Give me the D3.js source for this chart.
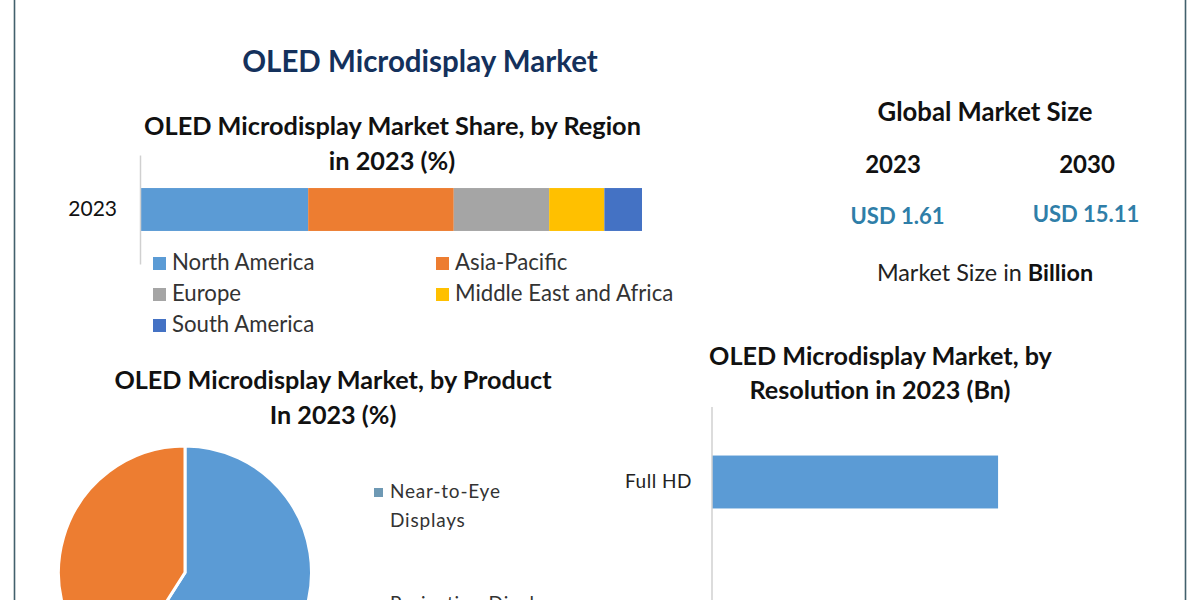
<!DOCTYPE html>
<html>

<head>
  <meta charset="utf-8">
  <title>OLED Microdisplay Market</title>
  <style>
    html, body { margin: 0; padding: 0; background: #fff; }
    svg { display: block; font-family: Lato, sans-serif; }
  </style>
</head>

<body>
  <script src="https://d3js.org/d3.v7.min.js"></script>
  <script>
    // data
    var regionYears = ["2023"];
    var regionNames = ["North America", "Asia-Pacific", "Europe", "Middle East and Africa", "South America"];
    var regionShares = [33.5, 29, 19, 11, 7.5];
    var regionColors = ["#5b9bd5", "#ed7d31", "#a5a5a5", "#ffc000", "#4472c4"];

    var productNames = ["Near-to-Eye Displays", "Projection Displays"];
    var productShares = [59, 41];
    var productColors = ["#5b9bd5", "#ed7d31"];

    var resolutionNames = ["Full HD"];
    var resolutionValues = [0.9];

    var sizeYears = ["2023", "2030"];
    var sizeValues = ["USD 1.61", "USD 15.11"];

    var width = 1200;
    var height = 600;
    var axisColor = "#d0d0d0";

    var svg = d3.select("body").append("svg")
      .attr("width", width).attr("height", height);

    function title(txt, x, y, size, color) {
      return svg.append("text")
        .attr("x", x).attr("y", y)
        .attr("text-anchor", "middle")
        .attr("font-size", size)
        .attr("font-weight", 700)
        .attr("fill", color || "#111")
        .text(txt);
    }

    // frame, cut off by the picture at top and bottom
    svg.selectAll(".frame").data([14.5, 1185.5]).enter().append("line")
      .attr("class", "frame")
      .attr("x1", function(d) { return d; }).attr("x2", function(d) { return d; })
      .attr("y1", 0).attr("y2", height)
      .attr("stroke", "#42606c").attr("stroke-width", 1.6);

    title("OLED Microdisplay Market", 420, 72, 29.5, "#14315c");

    // stacked region bar
    title("OLED Microdisplay Market Share, by Region", 392.5, 135, 25.3);
    title("in 2023 (%)", 392, 170, 25.3);

    var shareX = d3.scaleLinear().domain([0, d3.sum(regionShares)]).range([140, 642]);
    var shareY = d3.scaleBand().domain(regionYears).range([155, 264]).paddingInner(0).paddingOuter(0.77);

    var stacked = regionShares.map(function(v, i) {
      return { name: regionNames[i], start: d3.sum(regionShares.slice(0, i)), value: v, color: regionColors[i] };
    });
    svg.selectAll(".seg").data(stacked).enter().append("rect")
      .attr("class", "seg")
      .attr("x", function(d) { return shareX(d.start); })
      .attr("y", shareY("2023"))
      .attr("width", function(d) { return shareX(d.start + d.value) - shareX(d.start); })
      .attr("height", shareY.bandwidth())
      .attr("fill", function(d) { return d.color; });

    var shareAxis = svg.append("g")
      .attr("transform", "translate(140,0)")
      .call(d3.axisLeft(shareY).tickSize(0).tickPadding(23));
    shareAxis.select(".domain").attr("stroke", axisColor).attr("stroke-width", 1.5);
    shareAxis.selectAll("text").attr("font-size", 21).attr("font-family", "Lato, sans-serif").attr("fill", "#111");

    // region legend, two columns
    var legendCols = [153, 436];
    var legendRows = [263, 294, 325];
    var regionLegend = svg.selectAll(".rleg").data(regionNames).enter().append("g")
      .attr("class", "rleg")
      .attr("transform", function(d, i) {
        return "translate(" + legendCols[i % 2] + "," + legendRows[Math.floor(i / 2)] + ")";
      });
    regionLegend.append("rect")
      .attr("x", 0).attr("y", -6).attr("width", 13).attr("height", 13)
      .attr("fill", function(d, i) { return regionColors[i]; });
    regionLegend.append("text")
      .attr("x", 19).attr("y", 7)
      .attr("font-size", 22.2)
      .attr("fill", "#333")
      .text(function(d) { return d; });

    // global market size block
    title("Global Market Size", 985, 121, 25.7);
    svg.selectAll(".yr").data(sizeYears).enter().append("text")
      .attr("class", "yr")
      .attr("x", function(d, i) { return [893, 1087][i]; })
      .attr("y", 173)
      .attr("text-anchor", "middle")
      .attr("font-size", 24).attr("font-weight", 700).attr("fill", "#111")
      .text(function(d) { return d; });
    svg.selectAll(".usd").data(sizeValues).enter().append("text")
      .attr("class", "usd")
      .attr("x", function(d, i) { return [897.5, 1086][i]; })
      .attr("y", function(d, i) { return [224, 222][i]; })
      .attr("text-anchor", "middle")
      .attr("font-size", 22).attr("font-weight", 700).attr("fill", "#2f7ea8")
      .text(function(d) { return d; });
    var sizeNote = svg.append("text")
      .attr("x", 985).attr("y", 281)
      .attr("text-anchor", "middle")
      .attr("font-size", 23.4).attr("fill", "#222");
    sizeNote.append("tspan").text("Market Size in ");
    sizeNote.append("tspan").attr("font-weight", 700).attr("fill", "#111").text("Billion");

    // product pie
    title("OLED Microdisplay Market, by Product", 333, 389, 25.2);
    title("In 2023 (%)", 333, 424, 25.2);

    var pie = d3.pie().sort(null).value(function(d) { return d; });
    var arc = d3.arc().innerRadius(0).outerRadius(126.5);
    svg.append("g")
      .attr("transform", "translate(185,572.5)")
      .selectAll("path").data(pie(productShares)).enter().append("path")
      .attr("d", arc)
      .attr("fill", function(d, i) { return productColors[i]; })
      .attr("stroke", "#fff").attr("stroke-width", 3);

    // product legend, names wrap on two lines
    var productLegend = svg.selectAll(".pleg").data(productNames).enter().append("g")
      .attr("class", "pleg")
      .attr("transform", function(d, i) { return "translate(374," + [492, 604][i] + ")"; });
    productLegend.append("rect")
      .attr("x", 0).attr("y", -4).attr("width", 9).attr("height", 9)
      .attr("fill", function(d, i) { return ["#6e99b4", "#f2d98a"][i]; });
    productLegend.append("text")
      .attr("x", 16).attr("y", 6)
      .attr("font-size", 19)
      .attr("letter-spacing", 0.8)
      .attr("fill", "#333")
      .text(function(d, i) { return i == 0 ? "Near-to-Eye" : d; });
    productLegend.filter(function(d, i) { return i == 0; }).append("text")
      .attr("x", 16).attr("y", 35)
      .attr("font-size", 19)
      .attr("letter-spacing", 0.8)
      .attr("fill", "#333")
      .text("Displays");

    // resolution bars
    title("OLED Microdisplay Market, by", 880.5, 365, 25.2);
    title("Resolution in 2023 (Bn)", 880, 399, 25.2);

    var resX = d3.scaleLinear().domain([0, 1.4]).range([712, 1157]);
    var resY = d3.scaleBand().domain(resolutionNames).range([410, 554]).paddingInner(0).paddingOuter(0.86);

    svg.selectAll(".bar").data(resolutionValues).enter().append("rect")
      .attr("class", "bar")
      .attr("x", resX(0))
      .attr("y", function(d, i) { return resY(resolutionNames[i]); })
      .attr("width", function(d) { return resX(d) - resX(0); })
      .attr("height", resY.bandwidth())
      .attr("fill", "#5b9bd5");

    var resAxis = svg.append("g")
      .attr("transform", "translate(712,0)")
      .call(d3.axisLeft(resY).tickSize(0).tickPadding(20));
    resAxis.select(".domain").remove();
    resAxis.selectAll("text").attr("font-size", 19).attr("font-family", "Lato, sans-serif").attr("letter-spacing", 0.5).attr("fill", "#222");
    svg.append("line")
      .attr("x1", 712).attr("x2", 712).attr("y1", 407).attr("y2", height)
      .attr("stroke", axisColor).attr("stroke-width", 1.5);
  </script>
</body>

</html>
